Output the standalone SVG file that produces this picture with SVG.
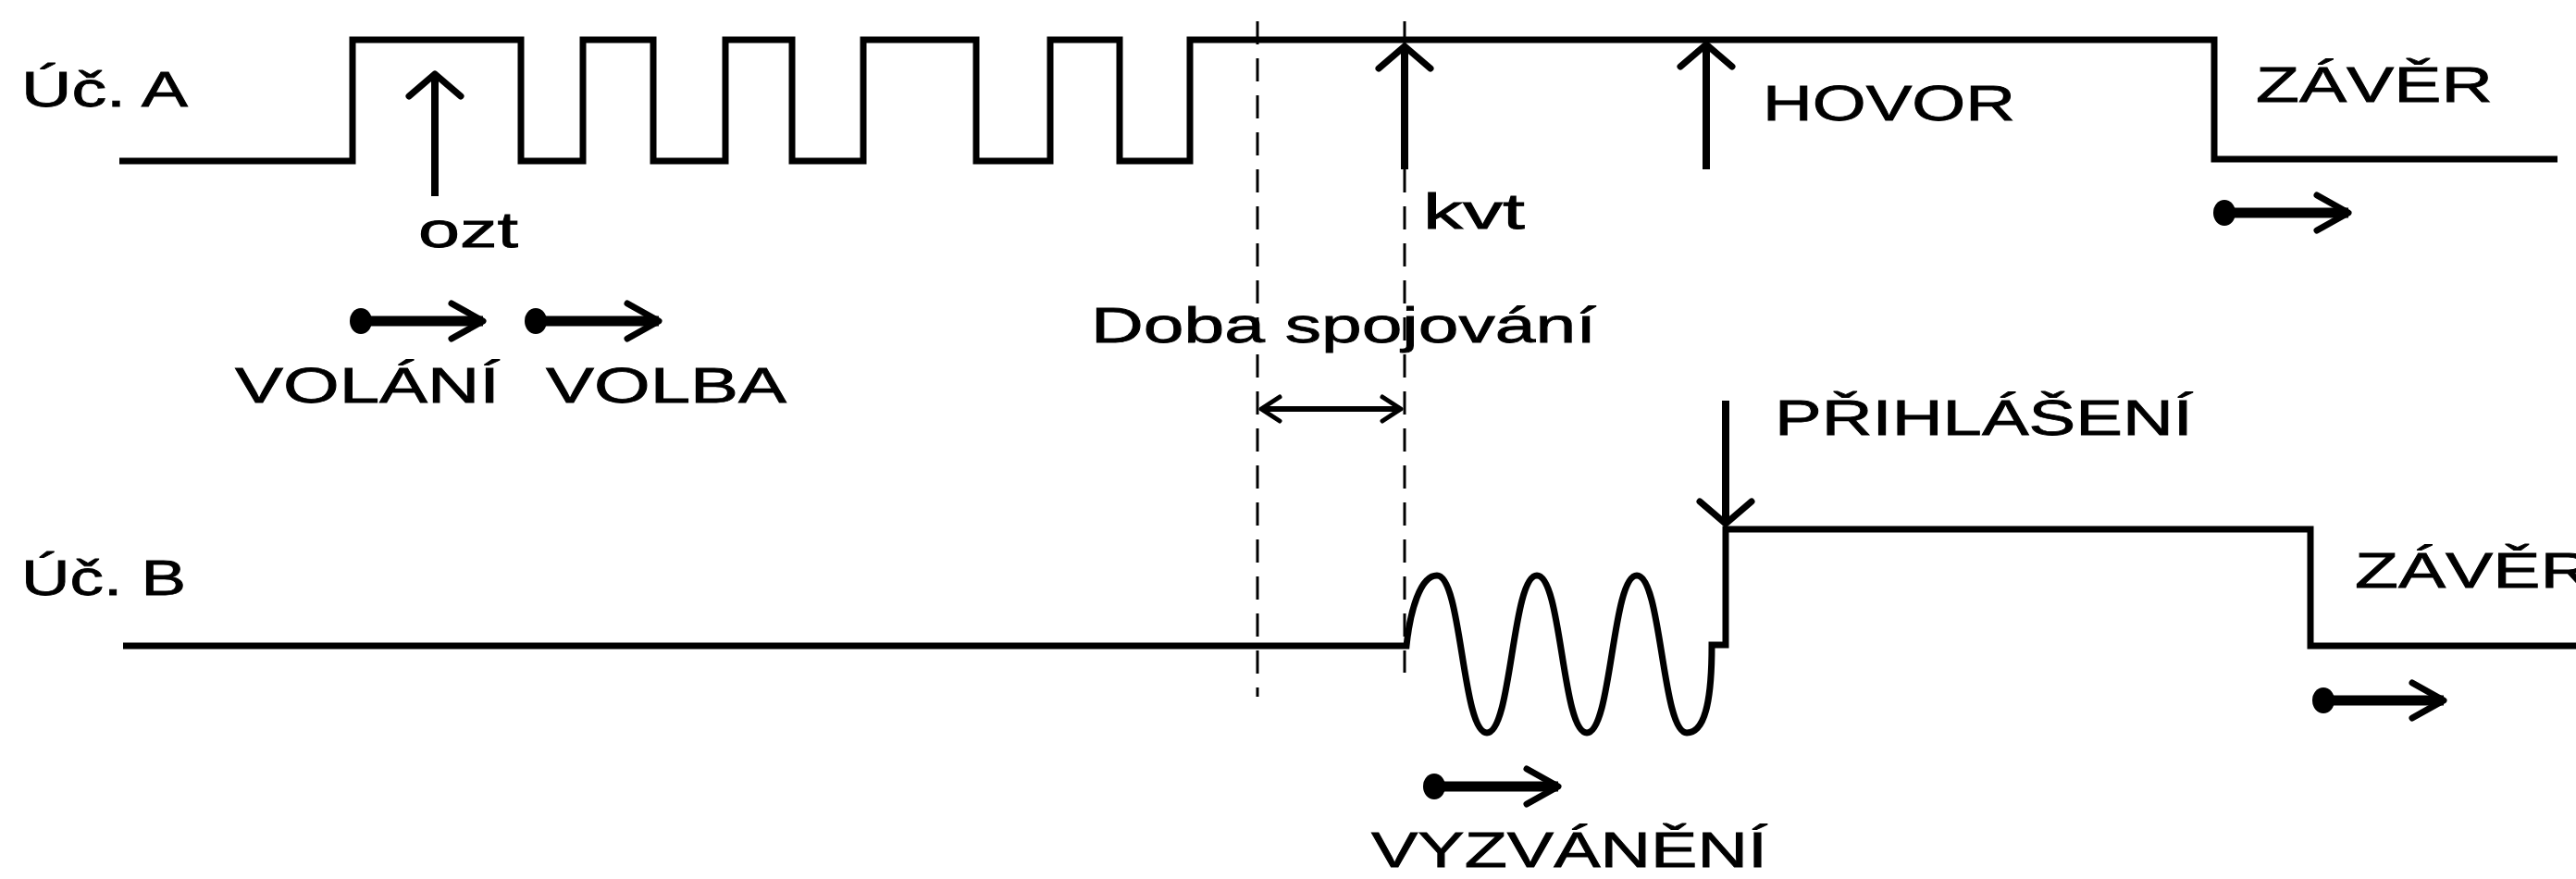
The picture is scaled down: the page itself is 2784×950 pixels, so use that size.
<svg xmlns="http://www.w3.org/2000/svg" width="2784" height="950" viewBox="0 0 2784 950">
<style>
.sig{fill:none;stroke:#000;stroke-width:7;stroke-linejoin:miter}
.dash{fill:none;stroke:#000;stroke-width:3;stroke-dasharray:25 15}
.lbl{font-family:"Liberation Sans",Arial,sans-serif;font-size:54px;fill:#000;stroke:#000;stroke-width:0.8}
.varr{fill:none;stroke:#000;stroke-width:8;marker-end:url(#chev)}
.darr{fill:none;stroke:#000;stroke-width:11;marker-start:url(#dot);marker-end:url(#dhead)}
.iarr{fill:none;stroke:#000;stroke-width:6;marker-start:url(#small);marker-end:url(#small)}
</style>
<defs>
<marker id="chev" markerUnits="userSpaceOnUse" viewBox="-34 -36 40 72" refX="0" refY="0" markerWidth="40" markerHeight="72" orient="auto" overflow="visible">
<path d="M-24,-28 L0,0 L-24,28" fill="none" stroke="#000" stroke-width="7" stroke-linejoin="round" stroke-linecap="round"/>
</marker>
<marker id="dhead" markerUnits="userSpaceOnUse" viewBox="-40 -26 46 52" refX="0" refY="0" markerWidth="46" markerHeight="52" orient="auto" overflow="visible">
<path d="M-34,-19 L0,0 L-34,19" fill="none" stroke="#000" stroke-width="7" stroke-linejoin="round" stroke-linecap="round"/>
</marker>
<marker id="dot" markerUnits="userSpaceOnUse" viewBox="-16 -16 32 32" refX="0" refY="0" markerWidth="32" markerHeight="32" orient="auto" overflow="visible">
<ellipse cx="0" cy="0" rx="12" ry="14" fill="#000"/>
</marker>
<marker id="small" markerUnits="userSpaceOnUse" viewBox="-26 -18 30 36" refX="0" refY="0" markerWidth="30" markerHeight="36" orient="auto-start-reverse" overflow="visible">
<path d="M-20,-13 L0,0 L-20,13" fill="none" stroke="#000" stroke-width="5" stroke-linejoin="round" stroke-linecap="round"/>
</marker>
</defs>
<rect width="2784" height="950" fill="#fff"/>

<g id="signal-a">
<path class="sig" d="M129,174 H381 V43 H563 V174 H630 V43 H706 V174 H784 V43 H856 V174 H933 V43 H1055 V174 H1135 V43 H1210 V174 H1286 V43 H2393 V172 H2764"/>
<text class="lbl" x="23" y="115" textLength="180" lengthAdjust="spacingAndGlyphs">Úč. A</text>
</g>

<g id="signal-b">
<path class="sig" d="M133,698 H1520 C1524,660 1535,622 1553,622 C1580,622 1580,792 1607,792 S1634,622 1661,622 S1688,792 1715,792 S1742,622 1769,622 S1796,792 1823,792 C1842,792 1850,760 1850,697 H1865 V572 H2497 V698 H2784"/>
<text class="lbl" x="23" y="643" textLength="178" lengthAdjust="spacingAndGlyphs">Úč. B</text>
</g>

<g id="dashed-lines">
<line class="dash" x1="1359" y1="23" x2="1359" y2="753"/>
<line class="dash" x1="1518" y1="23" x2="1518" y2="727"/>
</g>

<g id="connectors">
<line id="arr-ozt" class="varr" x1="470" y1="212" x2="470" y2="80"/>
<line id="arr-kvt" class="varr" x1="1518" y1="183" x2="1518" y2="50"/>
<line id="arr-hovor" class="varr" x1="1844" y1="183" x2="1844" y2="48"/>
<line id="arr-prihlaseni" class="varr" x1="1865" y1="433" x2="1865" y2="566"/>
<line id="arr-doba" class="iarr" x1="1363" y1="442" x2="1514" y2="442"/>
<line id="arr-volani" class="darr" x1="390" y1="347" x2="522" y2="347"/>
<line id="arr-volba" class="darr" x1="579" y1="347" x2="712" y2="347"/>
<line id="arr-zaver-a" class="darr" x1="2404" y1="230" x2="2538" y2="230"/>
<line id="arr-vyzvaneni" class="darr" x1="1550" y1="850" x2="1684" y2="850"/>
<line id="arr-zaver-b" class="darr" x1="2511" y1="757" x2="2641" y2="757"/>
</g>

<g id="label-ozt"><text class="lbl" x="452" y="267" textLength="108" lengthAdjust="spacingAndGlyphs">ozt</text></g>
<g id="label-volani"><text class="lbl" x="254" y="435" textLength="286" lengthAdjust="spacingAndGlyphs">VOLÁNÍ</text></g>
<g id="label-volba"><text class="lbl" x="590" y="435" textLength="260" lengthAdjust="spacingAndGlyphs">VOLBA</text></g>
<g id="label-kvt"><text class="lbl" x="1538" y="247" textLength="110" lengthAdjust="spacingAndGlyphs">kvt</text></g>
<g id="label-doba"><text class="lbl" x="1179" y="370" textLength="546" lengthAdjust="spacingAndGlyphs">Doba spojování</text></g>
<g id="label-hovor"><text class="lbl" x="1905" y="130" textLength="273" lengthAdjust="spacingAndGlyphs">HOVOR</text></g>
<g id="label-zaver-a"><text class="lbl" x="2438" y="110" textLength="256" lengthAdjust="spacingAndGlyphs">ZÁVĚR</text></g>
<g id="label-prihlaseni"><text class="lbl" x="1918" y="470" textLength="452" lengthAdjust="spacingAndGlyphs">PŘIHLÁŠENÍ</text></g>
<g id="label-zaver-b"><text class="lbl" x="2545" y="635" textLength="256" lengthAdjust="spacingAndGlyphs">ZÁVĚR</text></g>
<g id="label-vyzvaneni"><text class="lbl" x="1482" y="937" textLength="428" lengthAdjust="spacingAndGlyphs">VYZVÁNĚNÍ</text></g>
</svg>
